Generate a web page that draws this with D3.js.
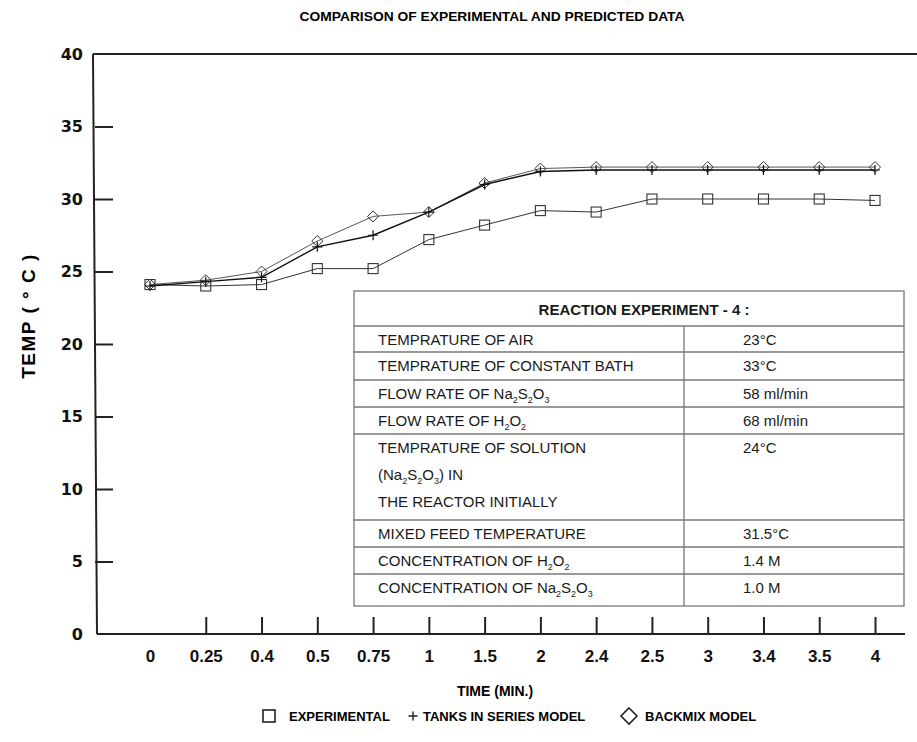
<!DOCTYPE html>
<html>
  <head>
    <meta charset="UTF-8" />
    <style>
      body {
        margin: 0;
        background-color: #ffffff;
      }
      svg {
        display: block;
      }
      .tbl {
        font-family: "Liberation Sans", Arial, sans-serif;
        font-size: 15px;
        fill: #1a1a1a;
      }
    </style>
  </head>

  <body>
    <svg width="917" height="742"></svg>

    <script src="https://cdn.jsdelivr.net/npm/d3@7"></script>
    <script>
      // data
      const times = ["0", "0.25", "0.4", "0.5", "0.75", "1", "1.5", "2", "2.4", "2.5", "3", "3.4", "3.5", "4"];
      const experimental = [24.1, 24.0, 24.1, 25.2, 25.2, 27.2, 28.2, 29.2, 29.1, 30.0, 30.0, 30.0, 30.0, 29.9];
      const tanksModel = [24.0, 24.3, 24.6, 26.7, 27.5, 29.1, 31.0, 31.9, 32.0, 32.0, 32.0, 32.0, 32.0, 32.0];
      const backmixModel = [24.1, 24.4, 25.0, 27.1, 28.8, 29.1, 31.1, 32.1, 32.2, 32.2, 32.2, 32.2, 32.2, 32.2];
      const yTicks = [0, 5, 10, 15, 20, 25, 30, 35, 40];
      const seriesNames = ["EXPERIMENTAL", "TANKS IN SERIES MODEL", "BACKMIX MODEL"];

      // table in the plot
      const tableTitle = "REACTION EXPERIMENT - 4 :";
      const tableRows = [
        { label: [["TEMPRATURE OF AIR"]], value: "23°C" },
        { label: [["TEMPRATURE OF CONSTANT BATH"]], value: "33°C" },
        { label: [["FLOW RATE OF Na", "2", "S", "2", "O", "3"]], value: "58 ml/min" },
        { label: [["FLOW RATE OF H", "2", "O", "2"]], value: "68 ml/min" },
        {
          label: [["TEMPRATURE OF SOLUTION"], ["(Na", "2", "S", "2", "O", "3", ") IN"], ["THE REACTOR INITIALLY"]],
          value: "24°C",
        },
        { label: [["MIXED FEED TEMPERATURE"]], value: "31.5°C" },
        { label: [["CONCENTRATION OF H", "2", "O", "2"]], value: "1.4 M" },
        { label: [["CONCENTRATION OF Na", "2", "S", "2", "O", "3"]], value: "1.0 M" },
      ];

      const svg = d3.select("svg");

      const plotLeft = 95;
      const plotTop = 54;
      const plotBottom = 634;

      const x = d3.scalePoint().domain(times).range([150, 875]);
      const y = d3.scaleLinear().domain([0, 40]).range([plotBottom, plotTop]);

      // title
      svg
        .append("text")
        .attr("x", 492)
        .attr("y", 21)
        .attr("text-anchor", "middle")
        .attr("font-family", "Liberation Sans, Arial, sans-serif")
        .attr("font-weight", "bold")
        .attr("font-size", 12)
        .attr("textLength", 385)
        .attr("lengthAdjust", "spacingAndGlyphs")
        .text("COMPARISON OF EXPERIMENTAL AND PREDICTED DATA");

      // frame lines: top border, left axis, bottom axis
      svg.append("line").attr("x1", plotLeft - 2).attr("y1", plotTop).attr("x2", 917).attr("y2", plotTop)
        .attr("stroke", "#222").attr("stroke-width", 2);
      svg.append("line").attr("x1", plotLeft - 2).attr("y1", plotTop).attr("x2", plotLeft + 2).attr("y2", plotBottom)
        .attr("stroke", "#222").attr("stroke-width", 2);
      svg.append("line").attr("x1", plotLeft + 2).attr("y1", plotBottom).attr("x2", 905).attr("y2", plotBottom)
        .attr("stroke", "#222").attr("stroke-width", 2);

      // y axis
      const yAxis = svg
        .append("g")
        .attr("transform", `translate(${plotLeft},0)`)
        .call(d3.axisLeft(y).tickValues(yTicks).tickSize(-18).tickPadding(12));
      yAxis.select(".domain").remove();
      yAxis.selectAll(".tick line")
        .attr("stroke", "#222")
        .attr("stroke-width", 2)
        .filter((d) => d === 0 || d === 40)
        .remove();
      yAxis.selectAll(".tick text")
        .attr("font-family", "DejaVu Sans, sans-serif")
        .attr("font-weight", "bold")
        .attr("font-size", 16)
        .attr("fill", "#111");

      // x axis
      const xAxis = svg
        .append("g")
        .attr("transform", `translate(0,${plotBottom})`)
        .call(d3.axisBottom(x).tickSize(-17).tickPadding(16));
      xAxis.select(".domain").remove();
      xAxis.selectAll(".tick line")
        .attr("stroke", "#222")
        .attr("stroke-width", 2)
        .filter((d) => d === "0")
        .remove();
      xAxis.selectAll(".tick text")
        .attr("font-family", "Liberation Sans Narrow, Liberation Sans, Arial, sans-serif")
        .attr("font-weight", "bold")
        .attr("font-size", 17)
        .attr("fill", "#111");

      // axis titles
      svg
        .append("text")
        .attr("transform", "translate(35,316) rotate(-90)")
        .attr("text-anchor", "middle")
        .attr("font-family", "Liberation Sans, Arial, sans-serif")
        .attr("font-weight", "bold")
        .attr("font-size", 19)
        .attr("letter-spacing", 1.5)
        .text("TEMP ( ° C )");

      svg
        .append("text")
        .attr("x", 495)
        .attr("y", 696)
        .attr("text-anchor", "middle")
        .attr("font-family", "Liberation Sans Narrow, Liberation Sans, Arial, sans-serif")
        .attr("font-weight", "bold")
        .attr("font-size", 14)
        .text("TIME (MIN.)");

      // series lines
      const line = d3
        .line()
        .x((d, i) => x(times[i]))
        .y((d) => y(d));

      svg.append("path").datum(experimental).attr("d", line)
        .attr("fill", "none").attr("stroke", "#333").attr("stroke-width", 1);
      svg.append("path").datum(backmixModel).attr("d", line)
        .attr("fill", "none").attr("stroke", "#444").attr("stroke-width", 0.9);
      svg.append("path").datum(tanksModel).attr("d", line)
        .attr("fill", "none").attr("stroke", "#111").attr("stroke-width", 1.4);

      // markers
      const sq = 10;
      svg.selectAll(".sq")
        .data(experimental)
        .enter()
        .append("rect")
        .attr("class", "sq")
        .attr("x", (d, i) => x(times[i]) - sq / 2)
        .attr("y", (d) => y(d) - sq / 2)
        .attr("width", sq)
        .attr("height", sq)
        .attr("fill", "none")
        .attr("stroke", "#333")
        .attr("stroke-width", 1.1);

      const diamond = (cx, cy, r) =>
        `M${cx},${cy - r}L${cx + r},${cy}L${cx},${cy + r}L${cx - r},${cy}Z`;
      svg.selectAll(".dm")
        .data(backmixModel)
        .enter()
        .append("path")
        .attr("class", "dm")
        .attr("d", (d, i) => diamond(x(times[i]), y(d), 5.5))
        .attr("fill", "none")
        .attr("stroke", "#333")
        .attr("stroke-width", 1);

      const plus = (cx, cy, r) =>
        `M${cx - r},${cy}L${cx + r},${cy}M${cx},${cy - r}L${cx},${cy + r}`;
      svg.selectAll(".pl")
        .data(tanksModel)
        .enter()
        .append("path")
        .attr("class", "pl")
        .attr("d", (d, i) => plus(x(times[i]), y(d), 5))
        .attr("fill", "none")
        .attr("stroke", "#111")
        .attr("stroke-width", 1.2);

      // data table
      const tX0 = 354, tX1 = 904, tDiv = 684;
      const rowLines = [291, 326, 352, 380, 407, 434, 520, 547, 574, 606];
      const tbl = svg.append("g");
      tbl.append("rect")
        .attr("x", tX0).attr("y", rowLines[0])
        .attr("width", tX1 - tX0).attr("height", rowLines[rowLines.length - 1] - rowLines[0])
        .attr("fill", "#fff").attr("stroke", "#777").attr("stroke-width", 1.3);
      rowLines.slice(1, -1).forEach((ly) => {
        tbl.append("line").attr("x1", tX0).attr("x2", tX1).attr("y1", ly).attr("y2", ly)
          .attr("stroke", "#777").attr("stroke-width", 1.3);
      });
      tbl.append("line").attr("x1", tDiv).attr("x2", tDiv)
        .attr("y1", rowLines[1]).attr("y2", rowLines[rowLines.length - 1])
        .attr("stroke", "#777").attr("stroke-width", 1.3);

      tbl.append("text")
        .attr("class", "tbl")
        .attr("x", 644)
        .attr("y", (rowLines[0] + rowLines[1]) / 2 + 6)
        .attr("text-anchor", "middle")
        .attr("font-weight", "bold")
        .text(tableTitle);

      const addRich = (parent, parts) => {
        // parts alternate: normal text, subscript, normal, subscript ...
        parts.forEach((p, k) => {
          const isSub = k % 2 === 1;
          parent.append("tspan")
            .attr("font-size", isSub ? 9 : 15)
            .attr("dy", isSub ? 4 : k > 0 ? -4 : 0)
            .text(p);
        });
      };

      tableRows.forEach((row, i) => {
        const y0 = rowLines[i + 1];
        const lineGap = 27;
        row.label.forEach((parts, j) => {
          const t = tbl.append("text")
            .attr("class", "tbl")
            .attr("x", 378)
            .attr("y", y0 + 19 + j * lineGap);
          addRich(t, parts);
        });
        tbl.append("text")
          .attr("class", "tbl")
          .attr("x", 743)
          .attr("y", y0 + 19)
          .text(row.value);
      });

      // legend
      const lg = svg.append("g").attr("font-family", "Liberation Sans, Arial, sans-serif")
        .attr("font-weight", "bold").attr("font-size", 13);
      const legendY = 716;
      lg.append("rect").attr("x", 263).attr("y", legendY - 6).attr("width", 12).attr("height", 12)
        .attr("fill", "none").attr("stroke", "#222").attr("stroke-width", 1.6);
      lg.append("text").attr("x", 289).attr("y", legendY + 5).text(seriesNames[0]);
      lg.append("path").attr("d", plus(413, legendY, 4.5))
        .attr("stroke", "#222").attr("stroke-width", 1.4);
      lg.append("text").attr("x", 423).attr("y", legendY + 5).text(seriesNames[1]);
      lg.append("path").attr("d", diamond(629, legendY, 8))
        .attr("fill", "none").attr("stroke", "#222").attr("stroke-width", 1.6);
      lg.append("text").attr("x", 645).attr("y", legendY + 5).text(seriesNames[2]);
    </script>
  </body>
</html>
